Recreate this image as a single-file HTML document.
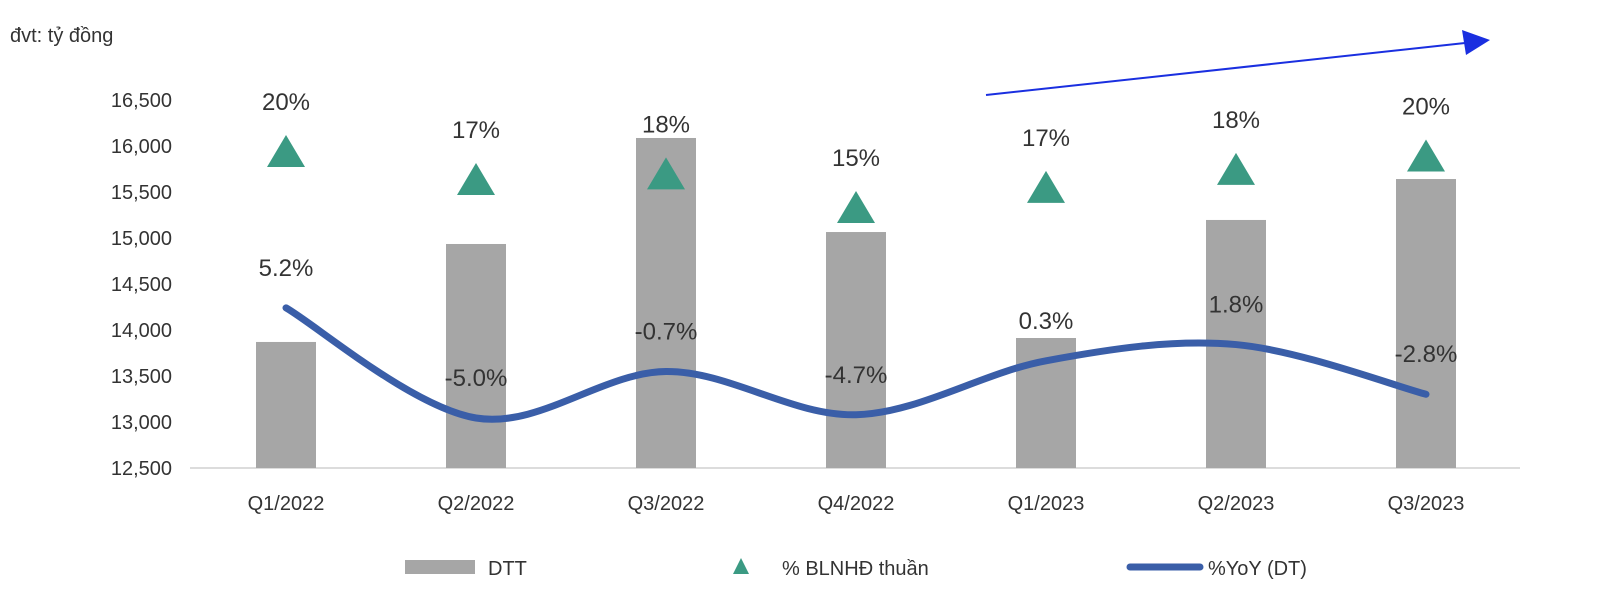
<!DOCTYPE html>
<html><head><meta charset="utf-8"><style>
html,body{margin:0;padding:0;background:#fff;}
svg{display:block;font-family:"Liberation Sans","Noto Sans CJK SC",sans-serif;}
</style></head><body>
<svg id="chart" width="1600" height="610" viewBox="0 0 1600 610"></svg>
<script>
const categories=["Q1/2022","Q2/2022","Q3/2022","Q4/2022","Q1/2023","Q2/2023","Q3/2023"];
const revenue=[13870,14935,16087,15065,13913,15196,15641];
const marginValues=[20.0,17.5,18.0,15.0,16.8,18.4,19.6];
const marginLabels=["20%","17%","18%","15%","17%","18%","20%"];
const yoyValues=[5.2,-5.0,-0.7,-4.7,0.3,1.8,-2.8];
const yoyLabels=["5.2%","-5.0%","-0.7%","-4.7%","0.3%","1.8%","-2.8%"];
const yTicks=[12500,13000,13500,14000,14500,15000,15500,16000,16500];
const yTickLabels=["12,500","13,000","13,500","14,000","14,500","15,000","15,500","16,000","16,500"];

const NS="http://www.w3.org/2000/svg";
const svg=document.getElementById('chart');
function mk(t,a,p){const e=document.createElementNS(NS,t);for(const k in a)e.setAttribute(k,a[k]);(p||svg).appendChild(e);return e;}
const xC=i=>286+i*190;
const yL=v=>468-(v-12500)*0.092;
const yM=v=>152+(20-v)*11.2;
const yY=v=>364-v*10.8;

let t=mk('text',{x:10,y:42,'font-size':20,fill:'#333'});t.textContent='đvt: tỷ đồng';



yTicks.forEach((v,i)=>{const e=mk('text',{x:172,y:yL(v)+7,'font-size':20,fill:'#333','text-anchor':'end'});e.textContent=yTickLabels[i];

});

const ax=mk('line',{x1:190,y1:468,x2:1520,y2:468,stroke:'#d0d0d0','stroke-width':1.5});



categories.forEach((c,i)=>{
 const b=mk('rect',{x:xC(i)-30,y:yL(revenue[i]),width:60,height:468-yL(revenue[i]),fill:'#a6a6a6'});
 
 
 const l=mk('text',{x:xC(i),y:510,'font-size':20,fill:'#333','text-anchor':'middle'});l.textContent=c;
 
 
 const cy=yM(marginValues[i]);
 const tr=mk('polygon',{points:`${xC(i)},${cy-17} ${xC(i)-19},${cy+15} ${xC(i)+19},${cy+15}`,fill:'#3b9a83'});
 
 
 const ml=mk('text',{x:xC(i),y:cy-42,'font-size':24,fill:'#333','text-anchor':'middle'});ml.textContent=marginLabels[i];
 
 
});

const pts=yoyValues.map((v,i)=>[xC(i),yY(v)]);
let d=`M${pts[0][0]},${pts[0][1]}`;
for(let i=0;i<pts.length-1;i++){
 const p0=pts[Math.max(0,i-1)],p1=pts[i],p2=pts[i+1],p3=pts[Math.min(pts.length-1,i+2)];
 const c1=[p1[0]+(p2[0]-p0[0])/6,p1[1]+(p2[1]-p0[1])/6],c2=[p2[0]-(p3[0]-p1[0])/6,p2[1]-(p3[1]-p1[1])/6];
 d+=` C${c1[0]},${c1[1]} ${c2[0]},${c2[1]} ${p2[0]},${p2[1]}`;
}
const ln=mk('path',{d:d,fill:'none',stroke:'#3a5ea8','stroke-width':7,'stroke-linecap':'round'});


pts.forEach((p,i)=>{const e=mk('text',{x:p[0],y:p[1]-32,'font-size':24,fill:'#333','text-anchor':'middle'});e.textContent=yoyLabels[i];

});

const ar=mk('line',{x1:986,y1:95,x2:1465,y2:43,stroke:'#1a2fe0','stroke-width':2});


const ah=mk('polygon',{points:'1490,40 1462,30 1466,55',fill:'#1a2fe0'});



const g=mk('g',{});
const lb=mk('rect',{x:405,y:560,width:70,height:14,fill:'#a6a6a6'},g);


let lt=mk('text',{x:488,y:575,'font-size':20,fill:'#333'},g);lt.textContent='DTT';


const lm=mk('polygon',{points:'741,558 733,574 749,574',fill:'#3b9a83'},g);


lt=mk('text',{x:782,y:575,'font-size':20,fill:'#333'},g);lt.textContent='% BLNHĐ thuần';


const ll=mk('line',{x1:1130,y1:567,x2:1200,y2:567,stroke:'#3a5ea8','stroke-width':7,'stroke-linecap':'round'},g);


lt=mk('text',{x:1208,y:575,'font-size':20,fill:'#333'},g);lt.textContent='%YoY (DT)';


</script>
</body></html>
